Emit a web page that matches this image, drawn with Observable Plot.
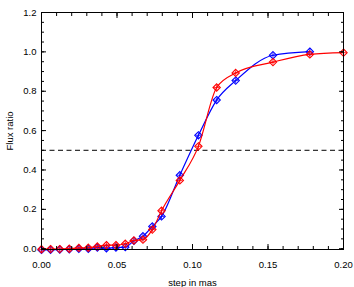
<!DOCTYPE html>
<html>
<head>
<meta charset="utf-8">
<script src="https://cdn.jsdelivr.net/npm/d3@7"></script>
<script src="https://cdn.jsdelivr.net/npm/@observablehq/plot@0.6"></script>
<style>
  html, body { margin: 0; padding: 0; background: #fff; }
  svg { display: block; }
</style>
</head>
<body>
<div id="chart"></div>
<script>
// step in mas
const redX  = [0, 0.006, 0.0121, 0.0184, 0.0247, 0.031, 0.037, 0.043, 0.0493, 0.0555, 0.0612, 0.0672, 0.0734, 0.0795, 0.0916, 0.1039, 0.116, 0.1286, 0.1533, 0.1777, 0.2];
const redY  = [-0.003, -0.002, -0.002, 0.0, 0.004, 0.005, 0.011, 0.018, 0.018, 0.025, 0.042, 0.046, 0.097, 0.193, 0.347, 0.520, 0.819, 0.893, 0.948, 0.987, 0.996];
const blueX = [0, 0.006, 0.0121, 0.0184, 0.0247, 0.031, 0.037, 0.043, 0.0493, 0.0555, 0.0612, 0.0672, 0.0734, 0.0795, 0.0916, 0.1039, 0.116, 0.1286, 0.1533, 0.1777];
const blueY = [-0.006, -0.005, -0.004, -0.003, 0.0, 0.0, 0.006, 0.002, 0.006, 0.008, 0.04, 0.063, 0.113, 0.164, 0.373, 0.576, 0.755, 0.854, 0.983, 1.001];
const halfLevel = 0.5;
const xMajor = [0, 0.05, 0.10, 0.15, 0.20];
const xMinor = d3.range(0, 21).map(i => i / 100);
const yMajor = [0, 0.2, 0.4, 0.6, 0.8, 1.0, 1.2];
const yMinor = d3.range(0, 25).map(i => i / 20);

const red = redX.map((x, i) => ({x, y: redY[i]}));
const blue = blueX.map((x, i) => ({x, y: blueY[i]}));

const font = "'Liberation Sans', Arial, Helvetica, sans-serif";

const chart = Plot.plot({
  width: 354,
  height: 287,
  marginLeft: 41,
  marginRight: 11,
  marginTop: 12,
  marginBottom: 38,
  style: {fontFamily: font, fontSize: "9.5px", color: "#000", background: "#fff"},
  x: {domain: [0, 0.2]},
  y: {domain: [-0.004, 1.2]},
  marks: [
    Plot.ruleY([halfLevel], {stroke: "#000", strokeWidth: 1, strokeDasharray: "5,3.5"}),
    Plot.line(blue, {x: "x", y: "y", stroke: "#0000ff", strokeWidth: 1.2, curve: "monotone-x"}),
    Plot.dot(blue, {x: "x", y: "y", symbol: "diamond2", r: 3.3, stroke: "#0000ff", strokeWidth: 1.1, fill: "none"}),
    Plot.dot(blue, {x: "x", y: "y", symbol: "plus", r: 1.8, stroke: "#0000ff", strokeWidth: 0.8, fill: "none"}),
    Plot.line(red, {x: "x", y: "y", stroke: "#ff0000", strokeWidth: 1.2, curve: "monotone-x"}),
    Plot.dot(red, {x: "x", y: "y", symbol: "diamond2", r: 3.3, stroke: "#ff0000", strokeWidth: 1.1, fill: "none"}),
    Plot.dot(red, {x: "x", y: "y", symbol: "plus", r: 1.8, stroke: "#ff0000", strokeWidth: 0.8, fill: "none"}),
    // axes: labels
    Plot.axisX(xMajor, {anchor: "bottom", tickSize: 0, tickPadding: 12, tickFormat: d3.format(".2f"), label: "step in mas", labelAnchor: "center", labelArrow: "none", labelOffset: 36, fontSize: 9.5}),
    Plot.axisY(yMajor, {anchor: "left", tickSize: 0, tickPadding: 5, tickFormat: d3.format(".1f"), label: "Flux ratio", labelAnchor: "center", labelArrow: "none", labelOffset: 35, fontSize: 9.5}),
    // inward ticks
    Plot.axisX(xMajor, {anchor: "bottom", tickSize: -5, text: null, label: null}),
    Plot.axisX(xMinor, {anchor: "bottom", tickSize: -3, text: null, label: null}),
    Plot.axisX(xMajor, {anchor: "top", tickSize: -5, text: null, label: null}),
    Plot.axisX(xMinor, {anchor: "top", tickSize: -3, text: null, label: null}),
    Plot.axisY(yMajor, {anchor: "left", tickSize: -5, text: null, label: null}),
    Plot.axisY(yMinor, {anchor: "left", tickSize: -3, text: null, label: null}),
    Plot.axisY(yMajor, {anchor: "right", tickSize: -5, text: null, label: null}),
    Plot.axisY(yMinor, {anchor: "right", tickSize: -3, text: null, label: null}),
    Plot.frame({stroke: "#000", strokeWidth: 1})
  ]
});
document.getElementById("chart").appendChild(chart);
</script>
</body>
</html>
